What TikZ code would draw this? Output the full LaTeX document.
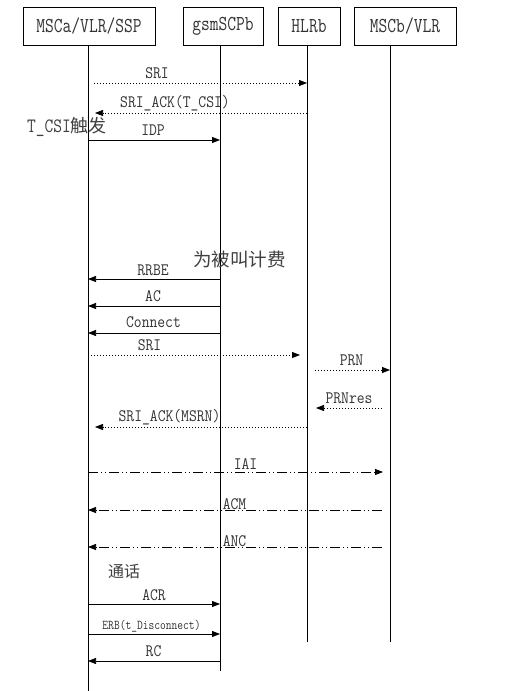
\documentclass[tikz,border=0pt]{standalone}
\usepackage{fontspec}
\newfontfamily\cjk{Noto Sans CJK SC}
\usetikzlibrary{arrows.meta}
\newcommand\mymsg[5]{\coordinate (#1s) at (#2,#4); \coordinate (#1e) at (#3,#4); \draw[msg,#5] (#1s) -- (#1e);}
\newcommand\lb[1]{\scalebox{1}[1.15]{#1}}
\begin{document}
\begin{tikzpicture}[x=1pt,y=-1pt,
  actor/.style={draw, line width=0.75pt, minimum height=38pt, inner sep=0pt,
    font=\ttfamily\fontsize{17}{17}\selectfont, text=black!80},
  life/.style={line width=0.75pt},
  msg/.style={line width=0.75pt, -{Triangle[length=8pt,width=6pt]}},
  dotl/.style={dash pattern=on 1pt off 2pt},
  ddot/.style={dash pattern=on 10pt off 3pt on 1pt off 3pt on 1pt off 3pt},
  lbl/.style={font=\ttfamily\fontsize{15.2}{15.2}\selectfont, inner sep=0pt, text=black!80},
  small/.style={font=\ttfamily\fontsize{11.2}{11.2}\selectfont, inner sep=0pt, text=black!80},
  note/.style={inner sep=0pt, text=black!75}]
\useasboundingbox (0,0) rectangle (511,691);
\fill[white] (0,0) rectangle (511,691);
% actors
\node[actor, minimum width=132pt] (A) at (89,26) {\scalebox{1}[1.25]{MSCa/VLR/SSP}};
\node[actor, minimum width=80pt] (B) at (223,26) {\scalebox{1}[1.25]{gsmSCPb}};
\node[actor, minimum width=62pt] (C) at (309,26) {\scalebox{1}[1.25]{HLRb}};
\node[actor, minimum width=102pt] (D) at (405,26) {\scalebox{1}[1.25]{MSCb/VLR}};
% lifelines
\coordinate (a0) at (88,45);  \coordinate (a1) at (88,691);
\coordinate (b0) at (220,45); \coordinate (b1) at (220,671);
\coordinate (c0) at (307,45); \coordinate (c1) at (307,642);
\coordinate (d0) at (390,45); \coordinate (d1) at (390,642);
\draw[life] (a0) -- (a1);
\draw[life] (b0) -- (b1);
\draw[life] (c0) -- (c1);
\draw[life] (d0) -- (d1);
% messages
\mymsg{m1}{94}{307}{83}{dotl}
\node[lbl] (l1) at (157,73) {\lb{SRI}};
\mymsg{m2}{307}{95}{113}{dotl}
\node[lbl] (l2) at (175,103) {\lb{SRI\_ACK(T\_CSI)}};
\mymsg{m3}{88}{220}{140}{}
\node[lbl] (l3) at (153,130) {\lb{IDP}};
\node[note] (n1) at (67,127) {{\ttfamily\fontsize{17}{17}\selectfont\scalebox{1}[1.2]{T\_CSI}}{\cjk\fontsize{18}{18}\selectfont 触发}};
\node[note, font=\cjk\fontsize{18.5}{18.5}\selectfont] (n2) at (239.5,259) {为被叫计费};
\mymsg{m4}{220}{88}{279}{}
\node[lbl] (l4) at (153,270) {\lb{RRBE}};
\mymsg{m5}{220}{88}{306}{}
\node[lbl] (l5) at (153,296.5) {\lb{AC}};
\mymsg{m6}{220}{88}{333}{}
\node[lbl] (l6) at (153.5,322) {\lb{Connect}};
\mymsg{m7}{88}{300}{355}{dotl}
\node[lbl] (l7) at (149.5,345) {\lb{SRI}};
\mymsg{m8}{315}{390}{370}{dotl}
\node[lbl] (l8) at (351.5,360) {\lb{PRN}};
\mymsg{m9}{382}{316}{408}{dotl}
\node[lbl] (l9) at (349,398) {\lb{PRNres}};
\mymsg{m10}{307}{95}{427}{dotl}
\node[lbl] (l10) at (169.5,417.5) {\lb{SRI\_ACK(MSRN)}};
\mymsg{m11}{88}{383}{472}{ddot}
\node[lbl] (l11) at (245.5,464.5) {\lb{IAI}};
\mymsg{m12}{382}{88}{510}{ddot}
\node[lbl] (l12) at (234.5,504) {\lb{ACM}};
\mymsg{m13}{382}{88}{547}{ddot}
\node[lbl] (l13) at (234.5,541.5) {\lb{ANC}};
\node[note, font=\cjk\fontsize{16}{16}\selectfont] (n3) at (124,571.5) {通话};
\mymsg{m14}{88}{220}{604}{}
\node[lbl] (l14) at (154,595) {\lb{ACR}};
\mymsg{m15}{88}{220}{634}{}
\node[small] (l15) at (151.5,626) {\scalebox{1}[1.2]{ERB(t\_Disconnect)}};
\mymsg{m16}{220}{88}{661}{}
\node[lbl] (l16) at (153.5,651.5) {\lb{RC}};
\end{tikzpicture}
\end{document}
